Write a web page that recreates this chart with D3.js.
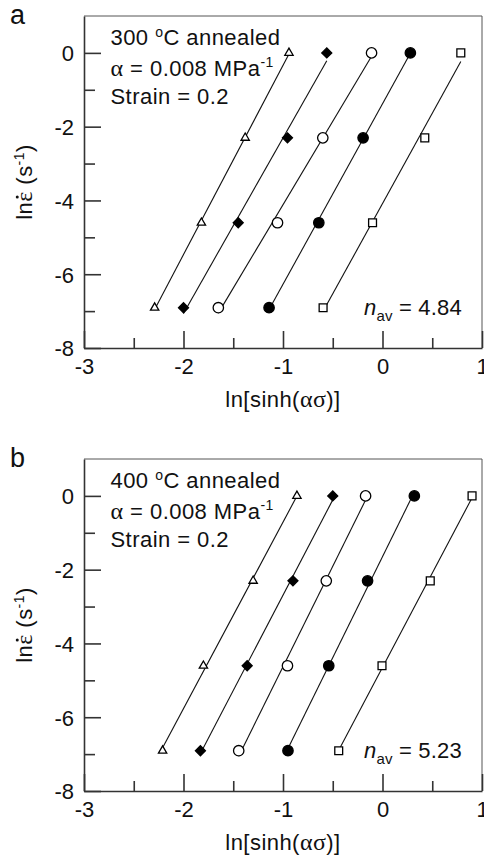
<!DOCTYPE html>
<html>
<head>
<meta charset="utf-8">
<script src="https://cdn.jsdelivr.net/npm/d3@7"></script>
<style>
  html, body { margin: 0; padding: 0; background: #fff; }
  svg { display: block; font-family: "Liberation Sans", Arial, sans-serif; }
  .greek { font-family: "Liberation Serif", "Times New Roman", serif; }
</style>
</head>
<body>
<svg id="chart" width="484" height="858"></svg>
<script>
// ln(strain rate) levels: 1, 0.1, 0.01, 0.001 s^-1
const lnRates = [0, -2.303, -4.605, -6.908];

// ln[sinh(alpha*sigma)] for each test series, listed in the order of lnRates
// Panel a: 300 °C annealed
const a_triangle = [-0.94, -1.38, -1.82, -2.29];
const a_diamond  = [-0.56, -0.955, -1.45, -2.0];
const a_circle   = [-0.11, -0.60, -1.055, -1.65];
const a_dot      = [0.28, -0.195, -0.64, -1.14];
const a_square   = [0.787, 0.425, -0.10, -0.597];

// Panel b: 400 °C annealed
const b_triangle = [-0.86, -1.30, -1.80, -2.21];
const b_diamond  = [-0.50, -0.90, -1.36, -1.83];
const b_circle   = [-0.17, -0.565, -0.955, -1.445];
const b_dot      = [0.32, -0.15, -0.54, -0.95];
const b_square   = [0.90, 0.48, -0.005, -0.44];

const xTicks = [-3, -2, -1, 0, 1];
const xMinorTicks = [-2.5, -1.5, -0.5, 0.5];
const yTicks = [-8, -6, -4, -2, 0];
const yMinorTicks = [-7, -5, -3, -1];

const panels = [
  { letter: "a", temp: "300", nav: "4.84",
    series: [a_triangle, a_diamond, a_circle, a_dot, a_square],
    box: { left: 84, right: 482, top: 16, bottom: 348 } },
  { letter: "b", temp: "400", nav: "5.23",
    series: [b_triangle, b_diamond, b_circle, b_dot, b_square],
    box: { left: 84, right: 482, top: 459, bottom: 791 } }
];

const markerKinds = ["triangle", "diamond", "circle", "dot", "square"];

const svg = d3.select("#chart");
const axisColor = "#333";
const textColor = "#111";
const fontSize = 22;
const tracking = 0.45;

function markerPath(kind) {
  if (kind === "triangle") return d3.symbol(d3.symbolTriangle, 30)();
  if (kind === "diamond") return d3.symbol(d3.symbolSquare, 50)();
  if (kind === "square") return d3.symbol(d3.symbolSquare, 62)();
  return d3.symbol(d3.symbolCircle, 85)();
}

// least-squares line of lnRate against ln[sinh]
function fit(xs, ys) {
  const mx = d3.mean(xs), my = d3.mean(ys);
  let sxy = 0, sxx = 0;
  xs.forEach((x, i) => { sxy += (x - mx) * (ys[i] - my); sxx += (x - mx) * (x - mx); });
  const slope = sxy / sxx;
  return x => my + slope * (x - mx);
}

const tickFmt = d => String(d);

panels.forEach(p => {
  const b = p.box;
  const x = d3.scaleLinear().domain([-3, 1]).range([b.left, b.right]);
  const y = d3.scaleLinear().domain([-8, 1]).range([b.bottom, b.top]);
  const g = svg.append("g");

  // frame (top and right)
  g.append("path")
    .attr("d", `M${b.left},${b.top}H${b.right}V${b.bottom}`)
    .attr("fill", "none").attr("stroke", "#555").attr("stroke-width", 1);

  // left axis, ticks pointing inward
  const yAxis = g.append("g").attr("transform", `translate(${b.left},0)`)
    .call(d3.axisLeft(y).tickValues(yTicks).tickSizeInner(-17).tickSizeOuter(0).tickPadding(10)
      .tickFormat(tickFmt));
  g.append("g").attr("transform", `translate(${b.left},0)`)
    .call(d3.axisLeft(y).tickValues(yMinorTicks).tickSizeInner(-11).tickSizeOuter(0).tickFormat(""))
    .call(s => s.select(".domain").remove());

  // bottom axis, ticks pointing inward
  g.append("g").attr("transform", `translate(0,${b.bottom})`)
    .call(d3.axisBottom(x).tickValues(xTicks).tickSizeInner(-17).tickSizeOuter(0).tickPadding(10)
      .tickFormat(tickFmt));
  g.append("g").attr("transform", `translate(0,${b.bottom})`)
    .call(d3.axisBottom(x).tickValues(xMinorTicks).tickSizeInner(-10).tickSizeOuter(0).tickFormat(""))
    .call(s => s.select(".domain").remove());

  g.selectAll(".tick line, .domain").attr("stroke", axisColor).attr("stroke-width", 1.6);
  g.selectAll(".tick text").attr("fill", textColor).attr("font-size", fontSize)
    .attr("font-family", "Liberation Sans, Arial, sans-serif");
  yAxis.selectAll(".tick text").attr("dy", "0.36em");

  // fitted lines and data markers
  p.series.forEach((xs, si) => {
    const f = fit(xs, lnRates);
    const [x0, x1] = d3.extent(xs);
    g.append("line")
      .attr("x1", x(x0)).attr("y1", y(f(x0)))
      .attr("x2", x(x1)).attr("y2", y(f(x1)))
      .attr("stroke", "#111").attr("stroke-width", 1.1);
    const kind = markerKinds[si];
    const filled = kind === "diamond" || kind === "dot";
    g.selectAll(null).data(xs.map((v, i) => [v, lnRates[i]])).join("path")
      .attr("d", markerPath(kind))
      .attr("transform", d => `translate(${x(d[0])},${y(d[1])})` + (kind === "diamond" ? " rotate(45)" : ""))
      .attr("fill", filled ? "#000" : "#fff")
      .attr("stroke", "#000").attr("stroke-width", 1.3);
  });

  // panel letter
  svg.append("text").attr("x", 10).attr("y", b.top + 8).attr("font-size", 27).attr("fill", textColor)
    .text(p.letter);

  // condition annotations
  const ann = g.append("g").attr("font-size", fontSize).attr("fill", textColor)
    .attr("letter-spacing", tracking);
  const t1 = ann.append("text").attr("x", 110.5).attr("y", b.top + 28.5);
  t1.append("tspan").text(p.temp + " ");
  t1.append("tspan").attr("font-size", 14).attr("dy", -8).text("o");
  t1.append("tspan").attr("dy", 8).text("C annealed");
  const t2 = ann.append("text").attr("x", 110.5).attr("y", b.top + 60);
  t2.append("tspan").attr("class", "greek").attr("font-size", 24).text("α");
  t2.append("tspan").text(" = 0.008 MPa");
  t2.append("tspan").attr("font-size", 14).attr("dy", -9).text("-1");
  ann.append("text").attr("x", 110.5).attr("y", b.top + 88).text("Strain = 0.2");

  // average stress exponent
  const t3 = ann.append("text").attr("x", 364).attr("y", y(-6.908) + 7.5).attr("letter-spacing", 0.2);
  t3.append("tspan").attr("font-style", "italic").text("n");
  t3.append("tspan").attr("font-size", 15).attr("dy", 6).text("av");
  t3.append("tspan").attr("dy", -6).text(" = " + p.nav);

  // y axis title: ln(strain rate) with a dot over epsilon
  const yg = svg.append("g")
    .attr("transform", `translate(32,${(b.top + b.bottom) / 2}) rotate(-90)`);
  const yl = yg.append("text")
    .attr("text-anchor", "middle").attr("font-size", fontSize).attr("fill", textColor)
    .attr("letter-spacing", tracking);
  yl.append("tspan").text("ln");
  yl.append("tspan").attr("class", "greek").attr("font-size", 24).text("ε");
  yl.append("tspan").text(" (s");
  yl.append("tspan").attr("font-size", 14).attr("dy", -8).text("-1");
  yl.append("tspan").attr("dy", 8).text(")");
  const eps = yl.node().getExtentOfChar(2);
  yg.append("circle")
    .attr("cx", eps.x + eps.width / 2 - 0.5)
    .attr("cy", eps.y + eps.height * 0.24)
    .attr("r", 1.5).attr("fill", textColor);

  // x axis title
  const xl = svg.append("text").attr("x", x(-1)).attr("y", b.bottom + 59)
    .attr("text-anchor", "middle").attr("font-size", fontSize).attr("fill", textColor)
    .attr("letter-spacing", tracking);
  xl.append("tspan").text("ln[sinh(");
  xl.append("tspan").attr("class", "greek").attr("font-size", 24).text("ασ");
  xl.append("tspan").text(")]");
});
</script>
</body>
</html>
